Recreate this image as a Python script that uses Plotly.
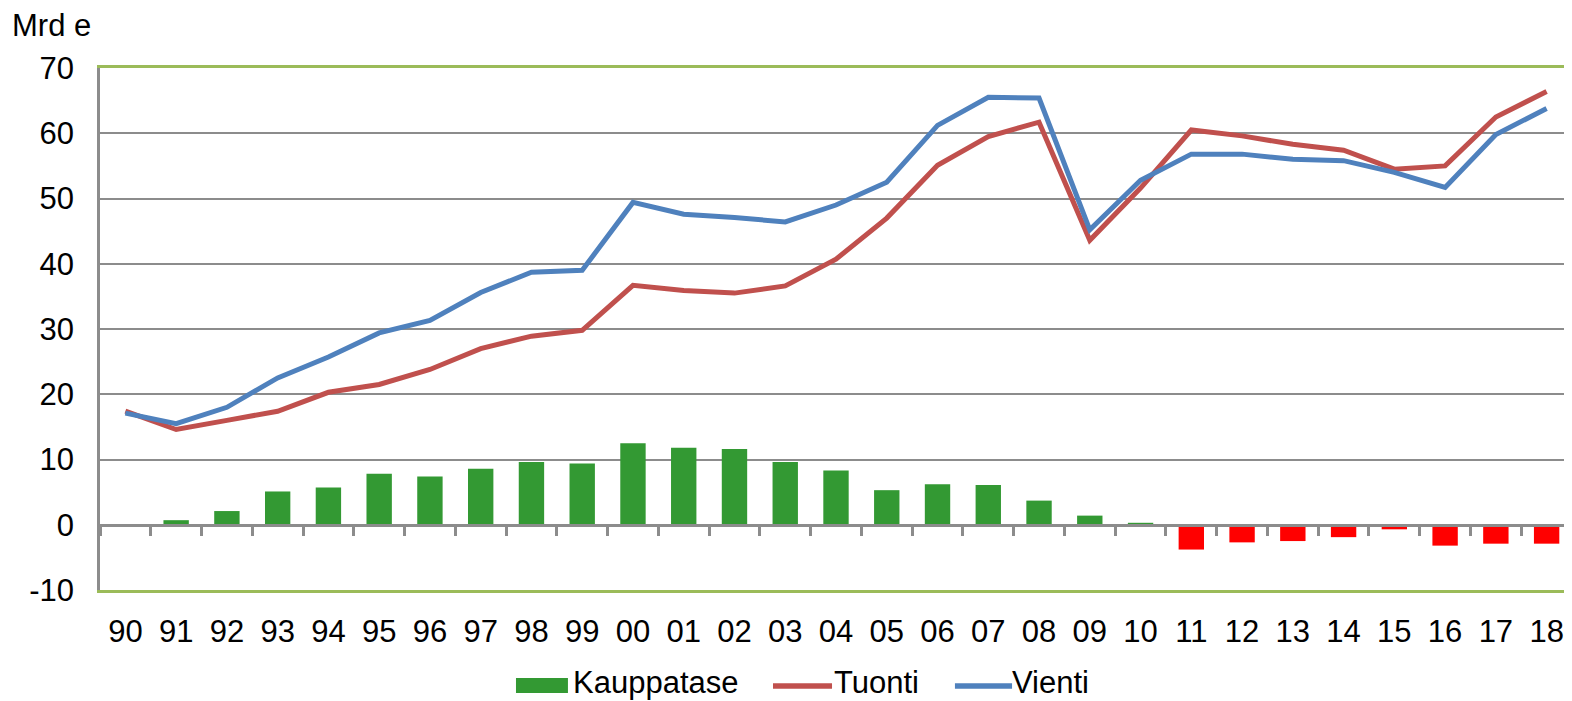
import plotly.graph_objects as go

years = ["90","91","92","93","94","95","96","97","98","99","00","01","02","03","04",
         "05","06","07","08","09","10","11","12","13","14","15","16","17","18"]
vienti = [17.1,15.5,18.0,22.5,25.7,29.4,31.3,35.6,38.7,39.0,49.4,47.6,47.1,46.4,49.0,
          52.5,61.2,65.5,65.4,45.2,52.8,56.8,56.8,56.0,55.8,54.0,51.7,59.8,63.8]
tuonti = [17.4,14.6,16.0,17.4,20.3,21.5,23.8,27.0,28.9,29.8,36.7,35.9,35.5,36.6,40.7,
          47.0,55.1,59.5,61.7,43.6,51.6,60.5,59.6,58.3,57.4,54.5,55.0,62.5,66.4]
kauppatase = [-0.3,0.7,2.1,5.1,5.7,7.8,7.4,8.6,9.6,9.4,12.5,11.8,11.6,9.6,8.3,
              5.3,6.2,6.1,3.7,1.4,0.3,-3.8,-2.7,-2.5,-1.9,-0.7,-3.2,-2.9,-2.9]
ytickvals = [70,60,50,40,30,20,10,0,-10]
yticktext = ["70","60","50","40","30","20","10","0","-10"]
legend_names = ["Kauppatase", "Tuonti", "Vienti"]

pos = [v if v >= 0 else None for v in kauppatase]
neg = [v if v < 0 else None for v in kauppatase]

FONT = "Liberation Sans, Arial, sans-serif"
FS = 31
GREEN_BAR = "#339933"
RED_BAR = "#FF0000"
RED_LINE = "#C0504D"
BLUE_LINE = "#4F81BD"
AXIS_GREEN = "#9BBB59"
GRID = "#8C8C8C"

fig = go.Figure()
fig.add_trace(go.Bar(x=years, y=pos, name=legend_names[0], marker_color=GREEN_BAR,
                     marker_line_width=0, xaxis="x2"))
fig.add_trace(go.Bar(x=years, y=neg, name=legend_names[0] + " (neg)", marker_color=RED_BAR,
                     marker_line_width=0, xaxis="x2"))
fig.add_trace(go.Scatter(x=years, y=tuonti, name=legend_names[1], mode="lines",
                         line=dict(color=RED_LINE, width=5)))
fig.add_trace(go.Scatter(x=years, y=vienti, name=legend_names[2], mode="lines",
                         line=dict(color=BLUE_LINE, width=5)))

# manual legend (paper coordinates)
LY_TEXT = -0.178
shapes = [
    dict(type="rect", xref="paper", yref="paper", x0=0.2826, x1=0.3179, y0=-0.1973, y1=-0.1686,
         fillcolor=GREEN_BAR, line=dict(width=0)),
    dict(type="line", xref="paper", yref="paper", x0=0.4572, x1=0.4973, y0=-0.1839, y1=-0.1839,
         line=dict(color=RED_LINE, width=5.5)),
    dict(type="line", xref="paper", yref="paper", x0=0.5808, x1=0.6196, y0=-0.1839, y1=-0.1839,
         line=dict(color=BLUE_LINE, width=5.5)),
]
annotations = [
    dict(text="Mrd e", xref="paper", yref="paper", x=-0.0611, y=1.082,
         xanchor="left", yanchor="middle", showarrow=False, font=dict(size=FS)),
]
for name, xp in zip(legend_names, [0.3200, 0.4975, 0.6185]):
    annotations.append(dict(text=name, xref="paper", yref="paper", x=xp, y=LY_TEXT,
                            xanchor="left", yanchor="middle", showarrow=False,
                            font=dict(size=FS)))

# page body has an 8px margin: shrink figure and margins accordingly
fig.update_layout(
    width=1564, height=693,
    margin=dict(l=92, r=0, t=60, b=111, autoexpand=False),
    paper_bgcolor="white", plot_bgcolor="white",
    font=dict(family=FONT, size=FS, color="black"),
    barmode="overlay", bargap=0.5,
    showlegend=False,
    xaxis=dict(type="category", categoryorder="array", categoryarray=years,
               showgrid=False, showline=True, linecolor=AXIS_GREEN, linewidth=2.5,
               mirror=True, ticks="", ticklabelstandoff=12, automargin=False,
               tickfont=dict(size=FS), zeroline=False),
    xaxis2=dict(type="category", categoryorder="array", categoryarray=years,
                matches="x", overlaying="x", anchor="free", position=0.125,
                showline=True, linecolor=GRID, linewidth=2.5, automargin=False,
                ticks="outside", tickson="boundaries", ticklen=9, tickwidth=2.5,
                tickcolor=GRID, showticklabels=False, showgrid=False),
    yaxis=dict(range=[-10, 70], tickvals=ytickvals, ticktext=yticktext,
               showgrid=True, gridcolor=GRID, automargin=False,
               gridwidth=2, showline=True, linecolor=GRID, linewidth=2.5,
               zeroline=False, ticks="", ticklabelstandoff=17, tickfont=dict(size=FS)),
    shapes=shapes,
    annotations=annotations,
)

fig.write_html("out.html")
